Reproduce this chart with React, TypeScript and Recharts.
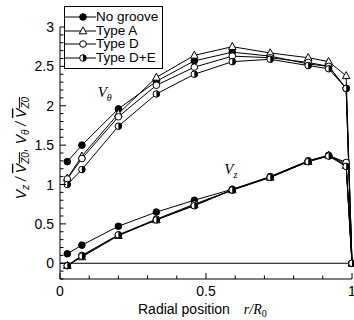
import React from 'react';
import { LineChart, Line, XAxis, YAxis, ReferenceLine, ReferenceDot, Legend, Label } from 'recharts';

// radial positions r/R0
const radius = [0.025, 0.075, 0.2, 0.33, 0.46, 0.59, 0.72, 0.85, 0.92, 0.98, 1.0];

// V_theta / Vz0
const thetaNoGroove = [1.29, 1.5, 1.96, 2.31, 2.57, 2.68, 2.63, 2.53, 2.5, 2.22, 0];
const thetaTypeA = [1.08, 1.36, 1.9, 2.36, 2.64, 2.75, 2.67, 2.61, 2.56, 2.38, 0];
const thetaTypeD = [1.07, 1.33, 1.86, 2.26, 2.49, 2.63, 2.61, 2.55, 2.5, 2.22, 0];
const thetaTypeDE = [1.0, 1.19, 1.74, 2.15, 2.4, 2.56, 2.59, 2.51, 2.47, 2.22, 0];

// V_z / Vz0
const zNoGroove = [0.12, 0.23, 0.47, 0.65, 0.8, 0.94, 1.1, 1.3, 1.37, 1.26, 0];
const zTypeA = [-0.03, 0.08, 0.35, 0.55, 0.74, 0.93, 1.09, 1.29, 1.37, 1.24, 0];
const zTypeD = [-0.03, 0.1, 0.36, 0.56, 0.75, 0.93, 1.1, 1.3, 1.37, 1.28, 0];
const zTypeDE = [-0.03, 0.09, 0.36, 0.55, 0.73, 0.93, 1.09, 1.29, 1.36, 1.23, 0];

const xMajor = [0, 0.5, 1];
const yMajor = [0, 0.5, 1, 1.5, 2, 2.5, 3];

// minor ticks every 0.1
const xTicks = Array.from({ length: 11 }, (_, i) => Math.round(i) / 10);
const yTicks = Array.from({ length: 33 }, (_, i) => Math.round(i - 2) / 10);

type Kind = 'filled' | 'triangle' | 'open' | 'half';

const series: { key: string; name: string; kind: Kind; theta: number[]; z: number[] }[] = [
  { key: 'noGroove', name: 'No groove', kind: 'filled', theta: thetaNoGroove, z: zNoGroove },
  { key: 'typeA', name: 'Type A', kind: 'triangle', theta: thetaTypeA, z: zTypeA },
  { key: 'typeD', name: 'Type D', kind: 'open', theta: thetaTypeD, z: zTypeD },
  { key: 'typeDE', name: 'Type D+E', kind: 'half', theta: thetaTypeDE, z: zTypeDE },
];

const data = radius.map((r, i) => {
  const row: Record<string, number> = { r };
  series.forEach(s => {
    row[s.key + 'T'] = s.theta[i];
    row[s.key + 'Z'] = s.z[i];
  });
  return row;
});

const SANS = 'Liberation Sans, Arial, sans-serif';
const SERIF = 'Liberation Serif, Times New Roman, serif';

const Marker = ({ cx, cy, kind }: { cx?: number; cy?: number; kind: Kind }) => {
  if (cx == null || cy == null) return null;
  const r = 3.3;
  if (kind === 'filled') return <circle cx={cx} cy={cy} r={r} fill="#000" stroke="#000" />;
  if (kind === 'open') return <circle cx={cx} cy={cy} r={r} fill="#fff" stroke="#000" />;
  if (kind === 'triangle')
    return (
      <polygon
        points={`${cx},${cy - 4.2} ${cx - 3.8},${cy + 2.8} ${cx + 3.8},${cy + 2.8}`}
        fill="#fff"
        stroke="#000"
      />
    );
  return (
    <g>
      <circle cx={cx} cy={cy} r={r} fill="#fff" stroke="#000" />
      <path d={`M${cx},${cy - r} A${r},${r} 0 0 1 ${cx},${cy + r} Z`} fill="#000" />
    </g>
  );
};

const LeftTick = (props: any) => {
  const { x, y, payload } = props;
  const v = payload.value;
  const major = yMajor.includes(v);
  return (
    <g>
      <line x1={x} x2={x + (major ? 6 : 3.5)} y1={y} y2={y} stroke="#000" />
      {major && (
        <text x={x - 6} y={y} dy="0.36em" textAnchor="end" fontSize={14} fontFamily={SANS} fill="#000">
          {String(v)}
        </text>
      )}
    </g>
  );
};

const RightTick = (props: any) => {
  const { x, y, payload } = props;
  const major = yMajor.includes(payload.value);
  return <line x1={x} x2={x - (major ? 6 : 3.5)} y1={y} y2={y} stroke="#000" />;
};

const BottomTick = (props: any) => {
  const { x, y, payload } = props;
  const v = payload.value;
  const major = xMajor.includes(v);
  return (
    <g>
      <line x1={x} x2={x} y1={y} y2={y - (major ? 6 : 3.5)} stroke="#000" />
      {major && (
        <text x={x} y={y + 17} textAnchor="middle" fontSize={14} fontFamily={SANS} fill="#000">
          {String(v)}
        </text>
      )}
    </g>
  );
};

const TopTick = (props: any) => {
  const { x, y, payload } = props;
  const major = xMajor.includes(payload.value);
  return <line x1={x} x2={x} y1={y} y2={y + (major ? 6 : 3.5)} stroke="#000" />;
};

const YTitle = (props: any) => {
  const vb = props.viewBox || { x: 0, y: 0, width: 60, height: 252 };
  const cx = 21;
  const cy = vb.y + vb.height / 2 - 5;
  return (
    <text
      transform={`translate(${cx},${cy}) rotate(-90)`}
      textAnchor="middle"
      dy="0.35em"
      fontSize={14}
      fontFamily={SANS}
      fontStyle="italic"
      fill="#000"
    >
      <tspan>V</tspan>
      <tspan fontSize={10} dy={3}>z</tspan>
      <tspan dy={-3}> / </tspan>
      <tspan textDecoration="overline">V</tspan>
      <tspan fontSize={10} dy={3} textDecoration="overline">Z0</tspan>
      <tspan dy={-3}>,  V</tspan>
      <tspan fontSize={10} dy={3}>θ</tspan>
      <tspan dy={-3}> / </tspan>
      <tspan textDecoration="overline">V</tspan>
      <tspan fontSize={10} dy={3} textDecoration="overline">Z0</tspan>
    </text>
  );
};

const XTitle = () => (
  <text x={138} y={314} fontSize={14} fontFamily={SANS} fill="#000">
    <tspan>Radial position</tspan>
    <tspan dx={14} fontFamily={SERIF} fontStyle="italic">r/R</tspan>
    <tspan fontFamily={SERIF} fontSize={10} dy={3}>0</tspan>
  </text>
);

const Annot = (sub: string) => (props: any) => {
  const vb = props.viewBox || { x: 0, y: 0 };
  return (
    <text x={vb.x} y={vb.y} textAnchor="middle" fontSize={15} fontFamily={SERIF} fontStyle="italic" fill="#000">
      <tspan>V</tspan>
      <tspan fontSize={10} dy={4}>{sub}</tspan>
    </text>
  );
};

const LegendBox = () => (
  <div
    style={{
      border: '1px solid #000',
      background: '#fff',
      padding: '3px 4px 3px 0',
      fontFamily: SANS,
      fontSize: 13.5,
      lineHeight: '13.7px',
      color: '#000',
    }}
  >
    {series.map(s => (
      <div key={s.key} style={{ display: 'flex', alignItems: 'center', height: 13.7 }}>
        <svg width={31} height={12} style={{ display: 'block' }}>
          <line x1={0} x2={31} y1={6} y2={6} stroke="#000" />
          <Marker cx={18} cy={6} kind={s.kind} />
        </svg>
        <span>{s.name}</span>
      </div>
    ))}
  </div>
);

export default function App() {
  return (
    <div style={{ position: 'absolute', left: 0, top: 0, width: 354, height: 320, background: '#fff' }}>
      <LineChart width={354} height={320} data={data} margin={{ top: 27, right: 2, bottom: 0, left: 0 }}>
        <XAxis
          xAxisId="b"
          dataKey="r"
          type="number"
          domain={[0, 1]}
          ticks={xTicks}
          interval={0}
          tickSize={0}
          tickMargin={0}
          tickLine={false}
          tick={<BottomTick />}
          axisLine={{ stroke: '#000' }}
          height={41}
        >
          <Label content={<XTitle />} />
        </XAxis>
        <XAxis
          xAxisId="t"
          orientation="top"
          dataKey="r"
          type="number"
          domain={[0, 1]}
          ticks={xTicks}
          interval={0}
          tickSize={0}
          tickMargin={0}
          tickLine={false}
          tick={<TopTick />}
          axisLine={{ stroke: '#000' }}
          height={0}
        />
        <YAxis
          yAxisId="l"
          type="number"
          domain={[-0.2, 3]}
          ticks={yTicks}
          interval={0}
          tickSize={0}
          tickMargin={0}
          tickLine={false}
          tick={<LeftTick />}
          axisLine={{ stroke: '#000' }}
          width={60}
          allowDataOverflow
        >
          <Label content={<YTitle />} />
        </YAxis>
        <YAxis
          yAxisId="rt"
          orientation="right"
          type="number"
          domain={[-0.2, 3]}
          ticks={yTicks}
          interval={0}
          tickSize={0}
          tickMargin={0}
          tickLine={false}
          tick={<RightTick />}
          axisLine={{ stroke: '#000' }}
          width={0}
          allowDataOverflow
        />
        <ReferenceLine xAxisId="b" yAxisId="l" y={0} stroke="#000" strokeWidth={1.2} />
        <ReferenceDot xAxisId="b" yAxisId="l" x={0.153} y={2.11} r={0} label={Annot('θ')} />
        <ReferenceDot xAxisId="b" yAxisId="l" x={0.585} y={1.13} r={0} label={Annot('z')} />
        <Legend
          layout="vertical"
          align="center"
          verticalAlign="middle"
          content={<LegendBox />}
          wrapperStyle={{ position: 'absolute', left: 64, top: 6, width: 'auto', height: 'auto' }}
        />
        {series.map(s => (
          <Line
            key={s.key + 'T'}
            xAxisId="b"
            yAxisId="l"
            dataKey={s.key + 'T'}
            name={s.name}
            stroke="#000"
            strokeWidth={1}
            isAnimationActive={false}
            dot={(p: any) => <Marker key={'t' + s.key + p.index} cx={p.cx} cy={p.cy} kind={s.kind} />}
            activeDot={false}
          />
        ))}
        {series.map(s => (
          <Line
            key={s.key + 'Z'}
            xAxisId="b"
            yAxisId="l"
            dataKey={s.key + 'Z'}
            name={s.name}
            legendType="none"
            stroke="#000"
            strokeWidth={1}
            isAnimationActive={false}
            dot={(p: any) => <Marker key={'z' + s.key + p.index} cx={p.cx} cy={p.cy} kind={s.kind} />}
            activeDot={false}
          />
        ))}
      </LineChart>
    </div>
  );
}
